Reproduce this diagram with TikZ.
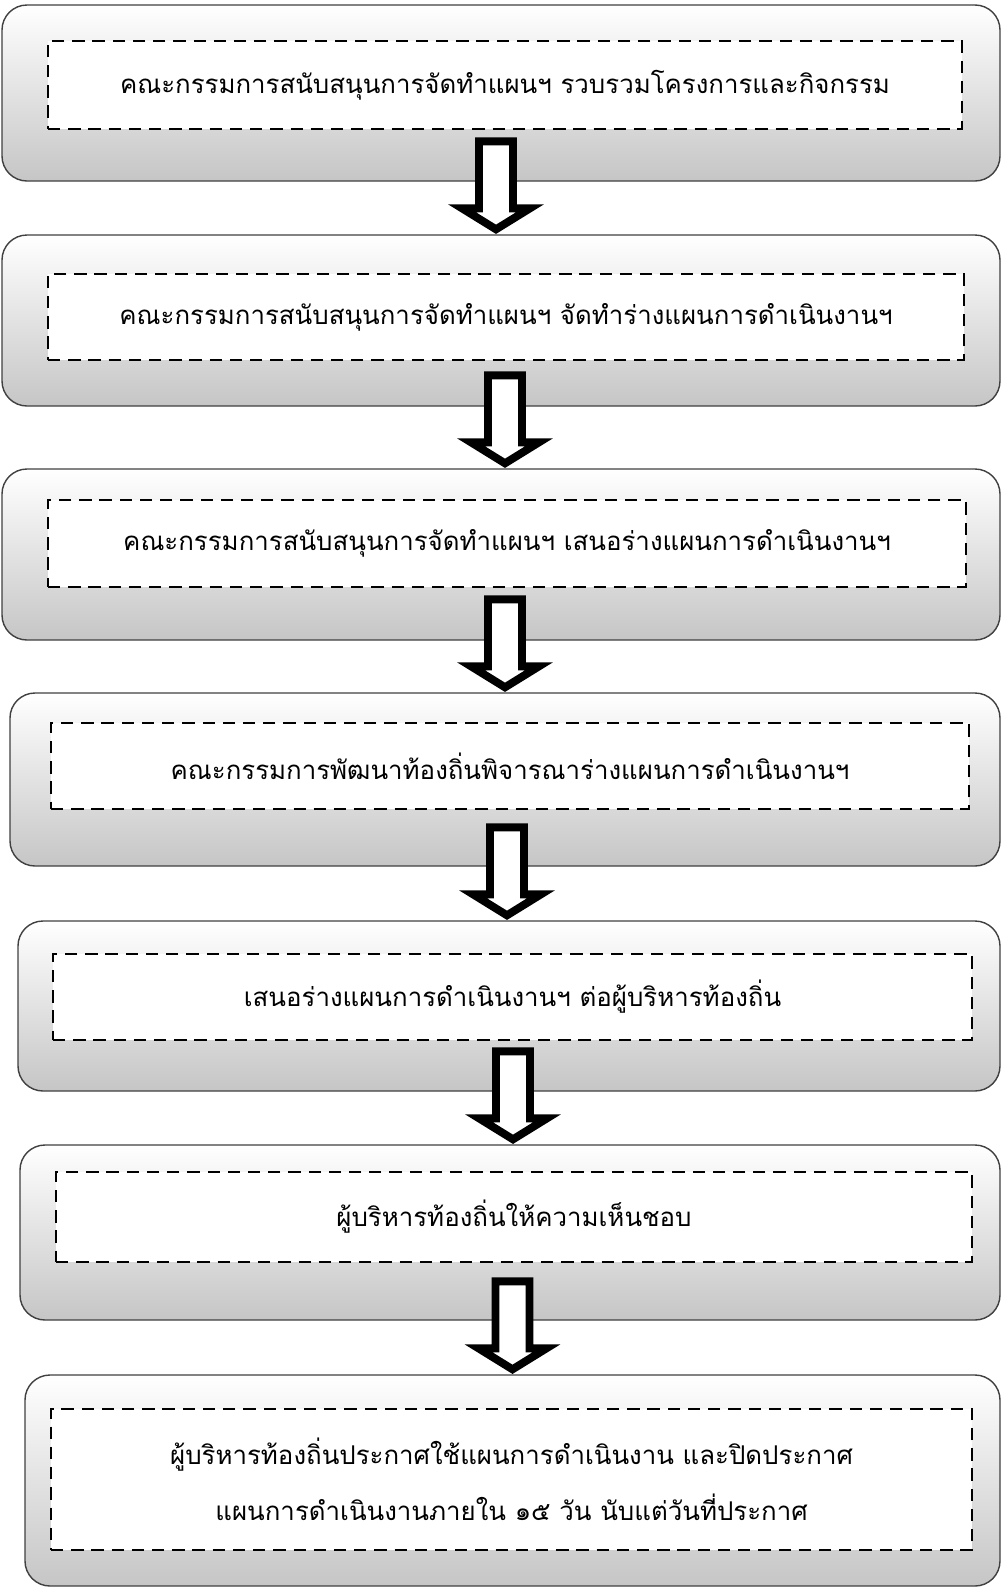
\documentclass[tikz,border=0pt]{standalone}
\usepackage{fontspec}
\newfontfamily\thaifont[Script=Thai]{Loma}
\usetikzlibrary{fit, calc}

\tikzset{
  stagebox/.style={draw=black!75, line width=0.8pt, rounded corners=5mm, inner sep=0pt,
    top color=white, middle color=white, bottom color=gray!45},
  dashbox/.style={draw=black, line width=1.3pt, dash pattern=on 7pt off 4.5pt, fill=white,
    inner sep=0pt, align=center, font=\thaifont\fontsize{14.7}{32}\selectfont},
  blockarrow/.style={draw=black, line width=4.5pt, fill=white, line join=miter},
}

\begin{document}
\begin{tikzpicture}[x=0.2mm, y=-0.2mm]
\useasboundingbox (0,0) rectangle (1007,1592);
% outer rounded boxes
\node [stagebox, fit={(2,5) (1000,181)}] (o1) {};
\node [stagebox, fit={(2,235) (1000,406)}] (o2) {};
\node [stagebox, fit={(2,469) (1000,640)}] (o3) {};
\node [stagebox, fit={(10,693) (1000,866)}] (o4) {};
\node [stagebox, fit={(18,921) (1000,1091)}] (o5) {};
\node [stagebox, fit={(20,1145) (1000,1320)}] (o6) {};
\node [stagebox, fit={(25,1375) (1000,1586)}] (o7) {};
% dashed text boxes
\node [dashbox, minimum width=182.8mm, minimum height=17.6mm] (s1) at (505,85) {คณะกรรมการสนับสนุนการจัดทำแผนฯ รวบรวมโครงการและกิจกรรม};
\node [dashbox, minimum width=183.2mm, minimum height=17.2mm] (s2) at (506,317) {คณะกรรมการสนับสนุนการจัดทำแผนฯ จัดทำร่างแผนการดำเนินงานฯ};
\node [dashbox, minimum width=183.6mm, minimum height=17.4mm] (s3) at (507,543.5) {คณะกรรมการสนับสนุนการจัดทำแผนฯ เสนอร่างแผนการดำเนินงานฯ};
\node [dashbox, minimum width=183.6mm, minimum height=17.2mm] (s4) at (510,766) {คณะกรรมการพัฒนาท้องถิ่นพิจารณาร่างแผนการดำเนินงานฯ};
\node [dashbox, minimum width=183.8mm, minimum height=17.2mm] (s5) at (512.5,997) {เสนอร่างแผนการดำเนินงานฯ ต่อผู้บริหารท้องถิ่น};
\node [dashbox, minimum width=183.2mm, minimum height=18mm] (s6) at (514,1217) {ผู้บริหารท้องถิ่นให้ความเห็นชอบ};
\node [dashbox, minimum width=184.2mm, minimum height=28.2mm] (s7) at (511.5,1479.5) {ผู้บริหารท้องถิ่นประกาศใช้แผนการดำเนินงาน และปิดประกาศ\\แผนการดำเนินงานภายใน ๑๕ วัน นับแต่วันที่ประกาศ};
% hollow arrows between the boxes
\foreach \a/\b/\dx in {o1/o2/-5, o2/o3/4, o3/o4/0, o4/o5/-2, o5/o6/3, o6/o7/0} {
  \coordinate (t) at ($(\b.north)+(\dx,-5)$);
  \draw [blockarrow] (t) -- ++(-34,-21) -- ++(17,0) -- ++(0,-67) -- ++(34,0) -- ++(0,67) -- ++(17,0) -- cycle;
}
\end{tikzpicture}
\end{document}
